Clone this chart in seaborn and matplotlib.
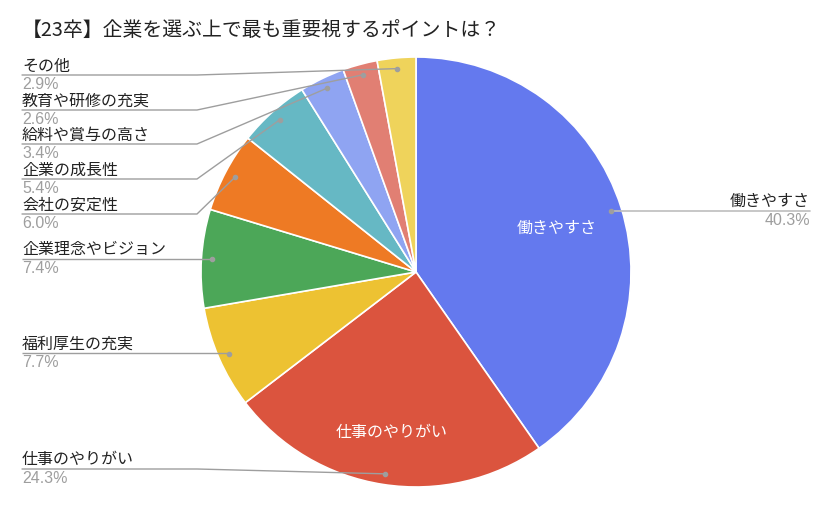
import numpy as np
import matplotlib
matplotlib.use("Agg")
import matplotlib.pyplot as plt
import seaborn as sns

sns.set_theme(style="white")
plt.rcParams['font.family'] = ['Noto Sans CJK JP', 'DejaVu Sans']

title = "【23卒】企業を選ぶ上で最も重要視するポイントは？"
categories = ["働きやすさ", "仕事のやりがい", "福利厚生の充実", "企業理念やビジョン",
              "会社の安定性", "企業の成長性", "給料や賞与の高さ", "教育や研修の充実", "その他"]
values = [40.3, 24.3, 7.7, 7.4, 6.0, 5.4, 3.4, 2.6, 2.9]
colors = ["#6479EE", "#DB543E", "#EDC232", "#4CA758", "#EE7A24",
          "#66B8C4", "#8FA4F2", "#E17F73", "#EFD35B"]

W, H = 831, 510
fig = plt.figure(figsize=(W / 100, H / 100), dpi=100)
ax = fig.add_axes([0, 0, 1, 1])

cx, cy, R = 416, 273, 215
# y axis is inverted: start at -90 (screen top), counterclock in data = clockwise on screen
wedges, _ = ax.pie(values, colors=colors, startangle=-90, counterclock=True,
                   center=(cx, cy), radius=R, frame=True,
                   wedgeprops=dict(edgecolor="white", linewidth=1.2))
ax.set_xlim(0, W)
ax.set_ylim(H, 0)
ax.set_aspect('equal')
ax.axis('off')

fig.text(22 / W, 1 - 30 / H, title, fontsize=14.3, color="#222222", va="center", ha="left")

total = sum(values)
cum = np.cumsum([0] + values[:-1])
mids = [(c + v / 2) / total * 360 for c, v in zip(cum, values)]  # clockwise from top

def pt(angle_deg, frac):
    a = np.deg2rad(angle_deg)
    return cx + np.sin(a) * R * frac, cy - np.cos(a) * R * frac

line_color = "#9E9E9E"
name_fs = 11.5
pct_font = ['Liberation Sans', 'DejaVu Sans']
# left-side label rows: (category index, line y)
left_rows = {8: 76, 7: 111, 6: 145, 5: 180, 4: 215, 3: 260, 2: 354, 1: 470}
for i, ly in left_rows.items():
    px, py = pt(mids[i], 0.95)
    if abs(py - ly) < 2:
        ax.plot([22, px], [ly, ly], color=line_color, lw=1, solid_capstyle='butt')
    else:
        ax.plot([22, 197, px], [ly, ly, py], color=line_color, lw=1)
    ax.plot(px, py, 'o', color=line_color, ms=3)
    ax.text(22, ly - 1.5, categories[i], fontsize=name_fs, color="#222222", ha="left", va="bottom")
    ax.text(22, ly + 1, f"{values[i]:.1f}%", fontsize=name_fs, color="#9E9E9E",
            ha="left", va="top", family=pct_font)

# right label for largest slice
px, py = pt(mids[0], 0.95)
ax.plot([px, 810], [py, py], color="#BDBDBD", lw=1.2)
ax.plot(px, py, 'o', color=line_color, ms=3)
ax.text(810, py - 1.5, categories[0], fontsize=name_fs, color="#222222", ha="right", va="bottom")
ax.text(810, py + 1, f"{values[0]:.1f}%", fontsize=name_fs, color="#9E9E9E",
        ha="right", va="top", family=pct_font)

# inside labels
for i, frac in [(0, 0.685), (1, 0.75)]:
    x, y = pt(mids[i], frac)
    ax.text(x, y, categories[i], fontsize=name_fs, color="white", ha="center", va="center")

fig.savefig("out.png", dpi=100, facecolor="white")
